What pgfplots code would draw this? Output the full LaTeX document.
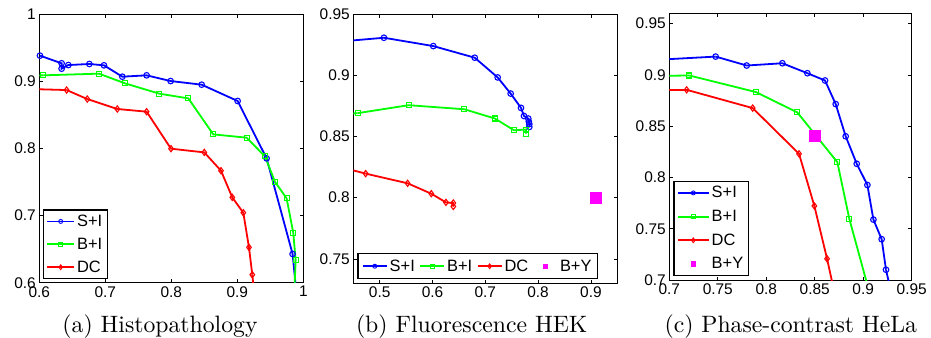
\documentclass[border=0pt]{standalone}
\usepackage{fontspec}
\usepackage{pgfplots}
\pgfplotsset{compat=1.18}
\newfontfamily\arial{Liberation Sans}
\definecolor{mgreen}{rgb}{0,1,0}
\definecolor{mblue}{rgb}{0,0,1}
\definecolor{mred}{rgb}{1,0,0}
\definecolor{mmag}{rgb}{1,0,1}
\pgfplotsset{
  mystyle/.style={
    scale only axis,
    axis line style={line width=0.8bp},
    tick align=inside,
    major tick length=3.5bp,
    tick style={line width=0.6bp, black},
    ticklabel style={font=\arial\fontsize{15.5}{17}\selectfont},
    /pgf/number format/assume math mode=true,
    legend style={font=\arial\fontsize{16.5}{18}\selectfont, draw=black, line width=1.2bp, inner sep=3bp, row sep=6bp, nodes={inner sep=2bp}},
    legend cell align=left,
  },
  si/.style={mblue, line width=1.8bp, mark=o, mark size=2.8bp, mark options={line width=1.1bp, solid}, legend image post style={mark size=2bp, mark options={line width=0.9bp}}},
  bi/.style={mgreen, line width=1.8bp, mark=square, mark size=2.5bp, mark options={line width=1.1bp, solid}, legend image post style={mark size=1.8bp, mark options={line width=0.9bp}}},
  dc/.style={mred, line width=1.8bp, mark=diamond, mark size=3.1bp, mark options={line width=1.1bp, solid}, legend image post style={mark size=2.4bp, mark options={line width=0.9bp}}},
  by/.style={mmag, only marks, mark=square*, mark size=5.5bp, legend image post style={mark size=1.8bp}},
}
\begin{document}
\begin{tikzpicture}
\useasboundingbox (0,0) rectangle (931bp,-338bp);
% ---------- (a)
\begin{axis}[mystyle, at={(39.3bp,-282.7bp)}, anchor=south west,
  width=264bp, height=268.7bp,
  xmin=0.6, xmax=1, ymin=0.6, ymax=1,
  xtick={0.6,0.7,0.8,0.9,1}, ytick={0.6,0.7,0.8,0.9,1},
  legend style={at={(0,0)}, anchor=south west, xshift=3.4bp, yshift=3.4bp},
  legend image code/.code={\path (0bp,0bp) (27bp,0bp); \draw[mark repeat=2,mark phase=2,#1,line width=1.8bp] plot coordinates {(0bp,0bp) (13.5bp,0bp) (27bp,0bp)};}]
\addplot[si] coordinates {(0.601,0.938) (0.6338,0.9266) (0.6338,0.9186) (0.644,0.924) (0.6758,0.9256) (0.698,0.9236) (0.7258,0.9067) (0.7626,0.9087) (0.799,0.9002) (0.846,0.8948) (0.9005,0.8705) (0.9444,0.7851) (0.9838,0.6427)};
\addlegendentry{S+I}
\addplot[bi] coordinates {(0.6061,0.9087) (0.6904,0.9112) (0.7298,0.8968) (0.7818,0.8814) (0.8258,0.8744) (0.8636,0.8208) (0.9141,0.8159) (0.9419,0.7881) (0.957,0.7504) (0.9747,0.7256) (0.9848,0.6744) (0.9884,0.6337)};
\addlegendentry{B+I}
\addplot[dc] coordinates {(0.6414,0.8868) (0.6727,0.8734) (0.7182,0.8586) (0.7626,0.8546) (0.7995,0.7995) (0.85,0.794) (0.8753,0.7667) (0.8924,0.727) (0.9091,0.7042) (0.9177,0.6526) (0.9227,0.6119)};
\addlegendentry{DC}
\addplot[si, mark=none, forget plot] coordinates {(0.9838,0.6427) (0.99,0.58)};
\addplot[bi, mark=none, forget plot] coordinates {(0.58,0.908) (0.6061,0.9087)};
\addplot[bi, mark=none, forget plot] coordinates {(0.9884,0.6337) (0.9862,0.58)};
\addplot[dc, mark=none, forget plot] coordinates {(0.58,0.8885) (0.6414,0.8868)};
\addplot[dc, mark=none, forget plot] coordinates {(0.9227,0.6119) (0.9262,0.58)};
\end{axis}
% ---------- (b)
\begin{axis}[mystyle, at={(353.3bp,-283.3bp)}, anchor=south west,
  width=264bp, height=269.3bp,
  xmin=0.45, xmax=0.95, ymin=0.73, ymax=0.95,
  xtick={0.5,0.6,0.7,0.8,0.9}, ytick={0.75,0.8,0.85,0.9,0.95},
  legend columns=4,
  legend style={at={(0,0)}, anchor=south west, xshift=4bp, yshift=4bp, inner sep=4bp,
    /tikz/every even column/.append style={column sep=2.5bp}},
  legend image code/.code={\path (0bp,0bp) (24bp,0bp); \draw[mark repeat=2,mark phase=2,#1,line width=1.6bp] plot coordinates {(0bp,0bp) (12bp,0bp) (24bp,0bp)};}]
\addplot[si] coordinates {(0.508,0.9306) (0.6015,0.9238) (0.680,0.9143) (0.7234,0.8982) (0.748,0.885) (0.7676,0.8733) (0.7733,0.8667) (0.7814,0.8646) (0.7825,0.862) (0.7833,0.860) (0.7833,0.8577)};
\addlegendentry{S+I}
\addplot[bi] coordinates {(0.4582,0.869) (0.5548,0.8755) (0.6602,0.8722) (0.7183,0.8646) (0.7544,0.855) (0.777,0.8556) (0.777,0.8523)};
\addlegendentry{B+I}
\addplot[dc] coordinates {(0.4734,0.8196) (0.5529,0.8117) (0.5977,0.8032) (0.6255,0.7961) (0.6394,0.7956) (0.6394,0.7928)};
\addlegendentry{DC}
\addplot[by] coordinates {(0.91,0.80)};
\addlegendentry{B+Y}
\addplot[si, mark=none, forget plot] coordinates {(0.43,0.9277) (0.508,0.9306)};
\addplot[bi, mark=none, forget plot] coordinates {(0.44,0.8685) (0.4582,0.869)};
\addplot[dc, mark=none, forget plot] coordinates {(0.43,0.8245) (0.4734,0.8196)};
\end{axis}
% ---------- (c)
\begin{axis}[mystyle, at={(669.3bp,-280bp)}, anchor=south west,
  width=242.4bp, height=266.7bp,
  xmin=0.7, xmax=0.95, ymin=0.7, ymax=0.96,
  xtick={0.7,0.75,0.8,0.85,0.9,0.95}, ytick={0.7,0.75,0.8,0.85,0.9,0.95},
  legend style={at={(0,0)}, anchor=south west, xshift=4bp, yshift=4bp, row sep=6.8bp},
  legend image code/.code={\path (0bp,0bp) (31bp,0bp); \draw[mark repeat=2,mark phase=2,#1,line width=1.8bp] plot coordinates {(0bp,0bp) (15.5bp,0bp) (31bp,0bp)};}]
\addplot[si] coordinates {(0.7478,0.9178) (0.7798,0.9091) (0.8166,0.9113) (0.8424,0.9016) (0.8606,0.8945) (0.8716,0.8715) (0.8819,0.8401) (0.8933,0.8133) (0.9043,0.7926) (0.9105,0.7589) (0.919,0.7398) (0.9235,0.71)};
\addlegendentry{S+I}
\addplot[bi] coordinates {(0.7206,0.8994) (0.7894,0.8832) (0.832,0.8634) (0.8733,0.8149) (0.8857,0.7595)};
\addlegendentry{B+I}
\addplot[dc] coordinates {(0.7179,0.8854) (0.786,0.8676) (0.8338,0.823) (0.8496,0.7722) (0.8627,0.7207)};
\addlegendentry{DC}
\addplot[by] coordinates {(0.8503,0.8408)};
\addlegendentry{B+Y}
\addplot[si, mark=none, forget plot] coordinates {(0.68,0.9143) (0.7478,0.9178)};
\addplot[si, mark=none, forget plot] coordinates {(0.9235,0.71) (0.9283,0.69)};
\addplot[bi, mark=none, forget plot] coordinates {(0.68,0.8988) (0.7206,0.8994)};
\addplot[bi, mark=none, forget plot] coordinates {(0.8857,0.7595) (0.9058,0.69)};
\addplot[dc, mark=none, forget plot] coordinates {(0.68,0.8854) (0.7179,0.8854)};
\addplot[dc, mark=none, forget plot] coordinates {(0.8627,0.7207) (0.8698,0.69)};
\end{axis}
% captions
\node[scale=2.38, anchor=base] at (160bp,-332bp) {\fontsize{10}{12}\selectfont (a) Histopathology};
\node[scale=2.38, anchor=base] at (471.7bp,-332bp) {\fontsize{10}{12}\selectfont (b) Fluorescence HEK};
\node[scale=2.38, anchor=base] at (790.8bp,-332bp) {\fontsize{10}{12}\selectfont (c) Phase-contrast HeLa};
\end{tikzpicture}
\end{document}
